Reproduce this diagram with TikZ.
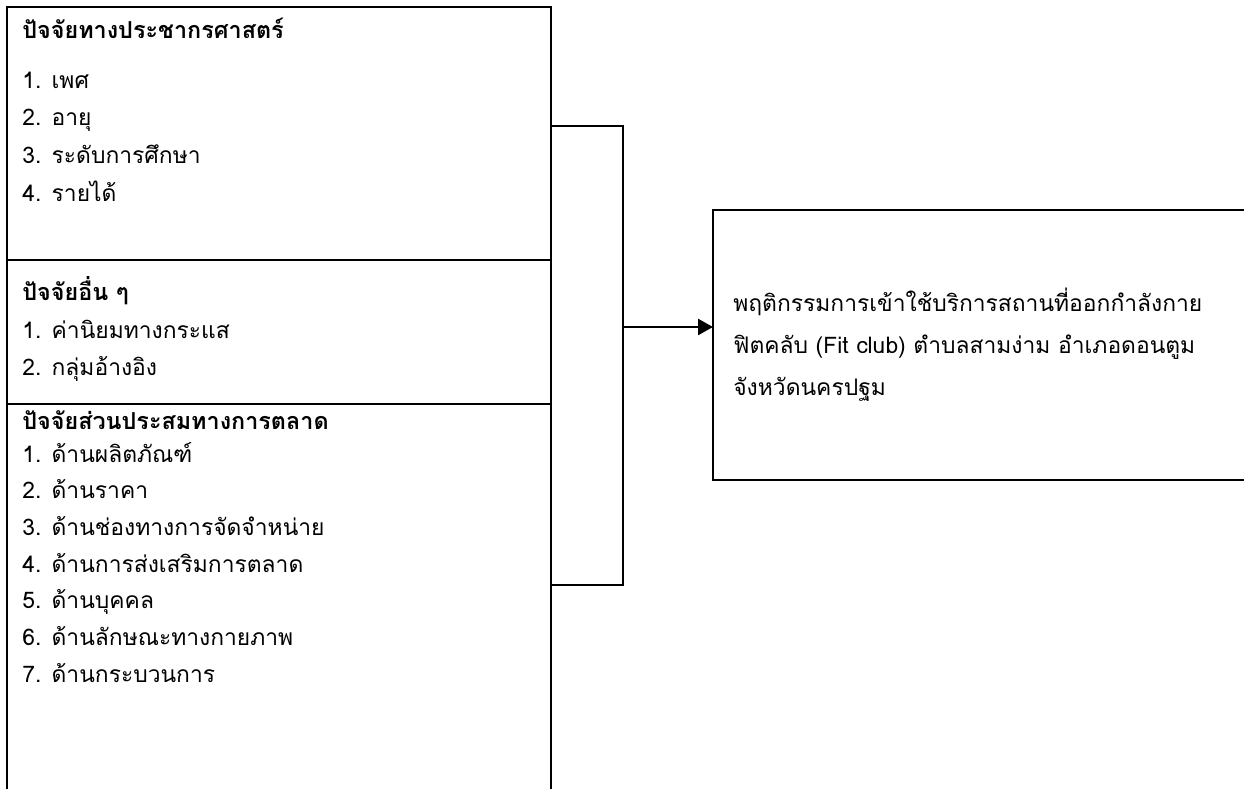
\documentclass[tikz,border=0pt]{standalone}
\usepackage{fontspec}
\newfontfamily\thaifont[Script=Thai]{Loma}
\usetikzlibrary{positioning}
\usetikzlibrary{arrows.meta}

\tikzset{
  item/.style={anchor=base west, inner sep=0pt, font=\thaifont\fontsize{13}{15}\selectfont},
  head/.style={item, font=\thaifont\bfseries\fontsize{13.3}{15}\selectfont},
  frame/.style={line width=1.6pt},
  link/.style={line width=1.5pt}
}

\begin{document}
\begin{tikzpicture}[x=0.02cm, y=-0.02cm]
 \useasboundingbox (0,0) rectangle (1244,789);

 %left box
 \draw[frame] (7,789) -- (7,7) -- (551,7) -- (551,789);
 \draw[frame] (7,260) -- (551,260);
 \draw[frame] (7,404) -- (551,404);

 \def\dx{22}

 %group 1
 \node[head] (demo) at (\dx,38) {ปัจจัยทางประชากรศาสตร์};
 \foreach \i/\y/\name in {1/88/เพศ, 2/125/อายุ, 3/163/ระดับการศึกษา, 4/201/รายได้} {
         \node[item] (demo-\i) at (\dx,\y) {\i. \name};
 }

 %group 2
 \node[head] (other) at (\dx,300) {ปัจจัยอื่น ๆ};
 \foreach \i/\y/\name in {1/338/ค่านิยมทางกระแส, 2/375/กลุ่มอ้างอิง} {
         \node[item] (other-\i) at (\dx,\y) {\i. \name};
 }

 %group 3
 \node[head] (mix) at (\dx,429) {ปัจจัยส่วนประสมทางการตลาด};
 \foreach \i/\y/\name in {1/462/ด้านผลิตภัณฑ์, 2/498/ด้านราคา, 3/535/ด้านช่องทางการจัดจำหน่าย,
        4/572/ด้านการส่งเสริมการตลาด, 5/608/ด้านบุคคล, 6/645/ด้านลักษณะทางกายภาพ, 7/682/ด้านกระบวนการ} {
         \node[item] (mix-\i) at (\dx,\y) {\i. \name};
 }

 %result box
 \node[anchor=west, minimum height=270*0.02cm, text width=9.82cm, inner xsep=0.4cm, inner ysep=0pt,
       font=\thaifont\fontsize{13}{24}\selectfont, align=left] (behav) at (713,345)
   {พฤติกรรมการเข้าใช้บริการสถานที่ออกกำลังกาย\\ฟิตคลับ (Fit club) ตำบลสามง่าม อำเภอดอนตูม\\จังหวัดนครปฐม};
 \draw[line width=1.2pt] (behav.north east) -- (behav.north west) -- (behav.south west) -- (behav.south east);

 %connector
 \coordinate (demoR) at (551,126);
 \coordinate (mixR) at (551,585);
 \coordinate (top) at (623,126);
 \coordinate (bot) at (623,585);
 \coordinate (mid) at (623,327);
 \draw[link] (demoR) -- (top) -- (bot) -- (mixR);
 \draw[link, -{Triangle[length=0.3cm, width=0.32cm]}] (mid) -- (behav.west |- mid);

\end{tikzpicture}
\end{document}
